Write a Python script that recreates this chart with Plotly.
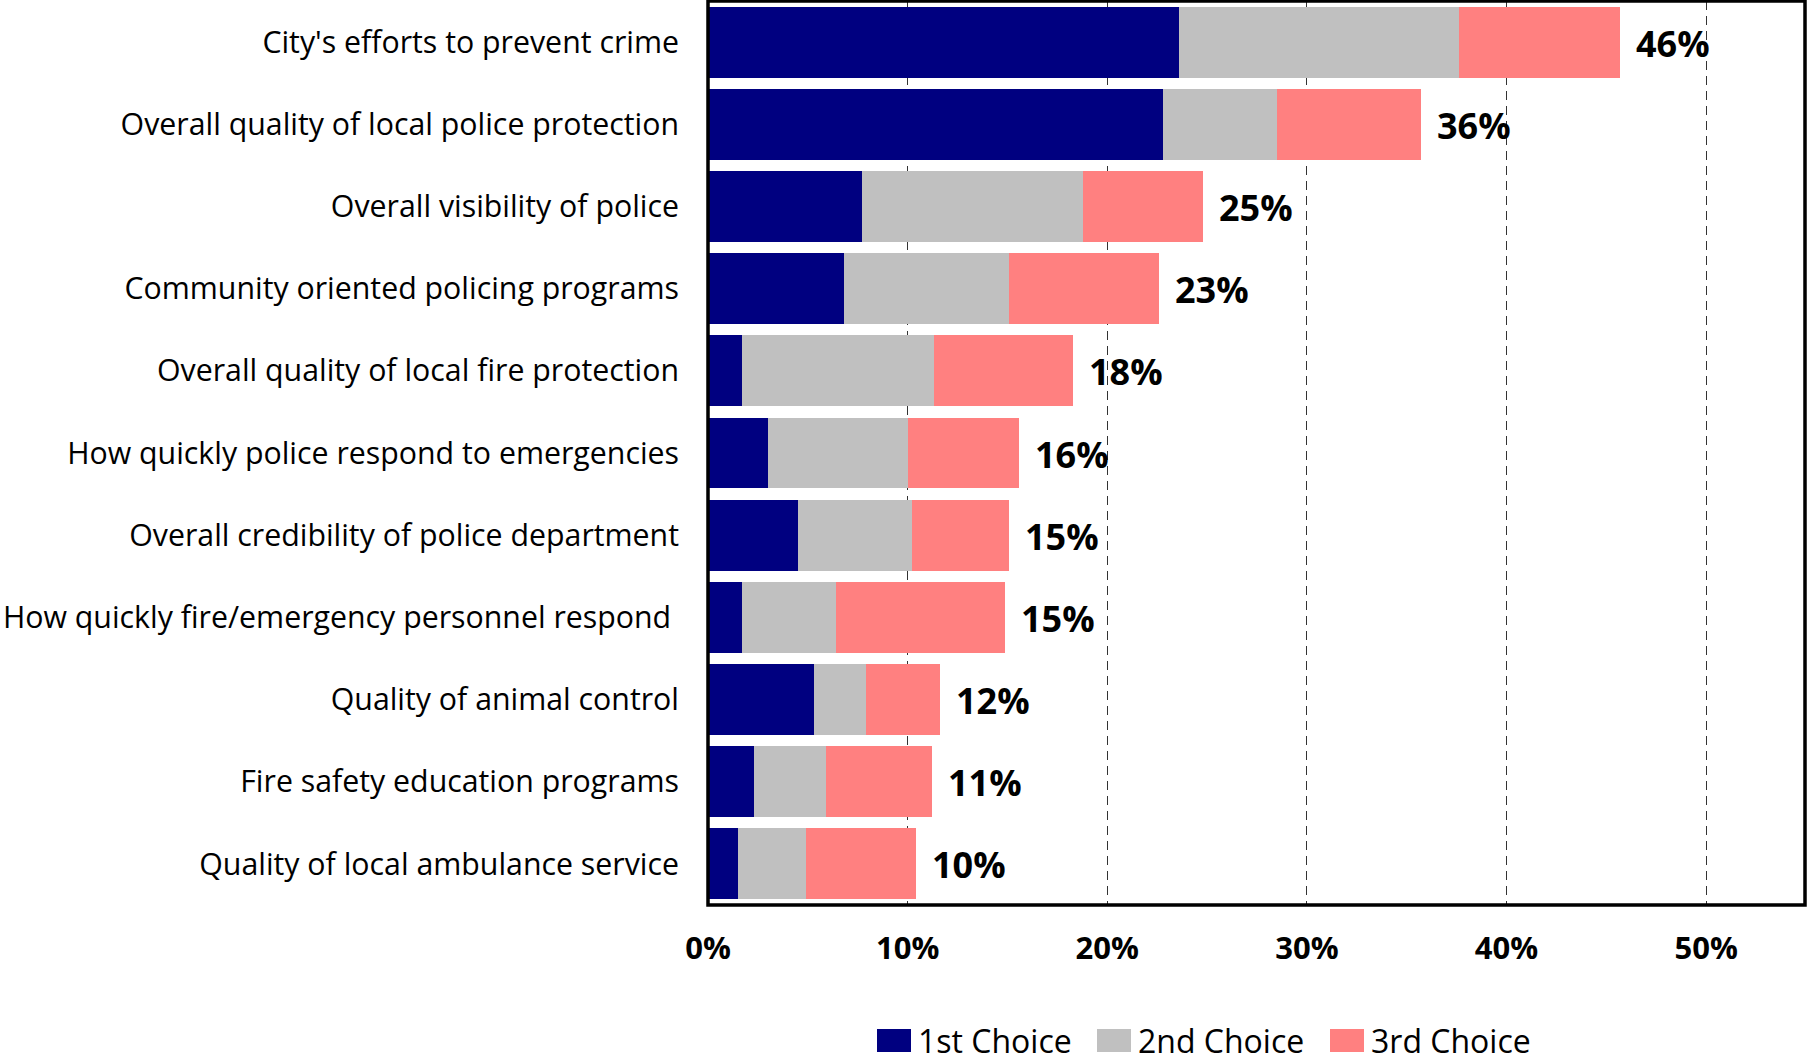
import plotly.graph_objects as go

# Service items, listed top to bottom
categories = [
    "City's efforts to prevent crime",
    "Overall quality of local police protection",
    "Overall visibility of police",
    "Community oriented policing programs",
    "Overall quality of local fire protection",
    "How quickly police respond to emergencies",
    "Overall credibility of police department",
    "How quickly fire/emergency personnel respond\u00a0",
    "Quality of animal control",
    "Fire safety education programs",
    "Quality of local ambulance service",
]

# Share of respondents naming each item as 1st / 2nd / 3rd choice
first_choice = [0.236, 0.228, 0.077, 0.068, 0.017, 0.030, 0.045, 0.017, 0.053, 0.023, 0.015]
second_choice = [0.140, 0.057, 0.111, 0.083, 0.096, 0.070, 0.057, 0.047, 0.026, 0.036, 0.034]
third_choice = [0.081, 0.072, 0.060, 0.075, 0.070, 0.056, 0.049, 0.085, 0.037, 0.053, 0.055]

series_names = ["1st Choice", "2nd Choice", "3rd Choice"]
series_colors = ["#000080", "#C0C0C0", "#FF8080"]

x_tick_values = [0.0, 0.1, 0.2, 0.3, 0.4, 0.5]
x_tick_labels = ["0%", "10%", "20%", "30%", "40%", "50%"]

FONT = "Open Sans"
W, H = 1808, 1061
M_L, M_R, M_T, M_B = 708, 3, 1, 156


def paper_x(px):
    return (px - M_L) / (W - M_L - M_R)


def paper_y(py):
    return (H - M_B - py) / (H - M_T - M_B)


fig = go.Figure()

series = [first_choice, second_choice, third_choice]
for name, values, color in zip(series_names, series, series_colors):
    fig.add_trace(go.Bar(
        y=categories,
        x=values,
        name=name,
        orientation="h",
        marker=dict(color=color, line=dict(width=0)),
        showlegend=False,
    ))

# Total share label at the end of each stacked bar
totals = [a + b + c for a, b, c in zip(*series)]
for cat, total in zip(categories, totals):
    fig.add_annotation(
        x=total, y=cat, xref="x", yref="y",
        text=f"{round(total * 100)}%",
        showarrow=False, xanchor="left", yanchor="middle", xshift=14, yshift=-1,
        font=dict(family=FONT, size=36, color="black", weight="bold"),
    )

# Legend drawn as swatches with labels below the plot
legend_left = [877, 1097, 1330]
sw_w, sw_h, sw_top = 34, 23, 1029
for name, color, left in zip(series_names, series_colors, legend_left):
    fig.add_shape(
        type="rect", xref="paper", yref="paper",
        x0=paper_x(left), x1=paper_x(left + sw_w),
        y0=paper_y(sw_top + sw_h), y1=paper_y(sw_top),
        fillcolor=color, line=dict(width=0),
    )
    fig.add_annotation(
        x=paper_x(left + sw_w + 5), y=paper_y(sw_top + sw_h / 2),
        xref="paper", yref="paper", text=name, showarrow=False,
        xanchor="left", yanchor="middle",
        font=dict(family=FONT, size=32, color="black"),
    )

# Plot frame
fig.add_shape(
    type="rect", xref="paper", yref="paper", x0=0, x1=1, y0=0, y1=1,
    line=dict(color="black", width=3.5), layer="above",
)

fig.update_layout(
    width=W, height=H,
    margin=dict(l=M_L, r=M_R, t=M_T, b=M_B, pad=0, autoexpand=False),
    barmode="stack",
    bargap=0.137,
    plot_bgcolor="white",
    paper_bgcolor="white",
    font=dict(family=FONT, color="black"),
    showlegend=False,
)

fig.update_xaxes(
    range=[0, 0.5495],
    tickvals=x_tick_values,
    ticktext=x_tick_labels,
    showgrid=True, gridcolor="#333333", gridwidth=1, griddash="9px,6px",
    zeroline=False, showline=False, ticks="",
    tickfont=dict(family=FONT, size=31, color="black", weight="bold"),
    ticklabelstandoff=22,
    automargin=False,
)

fig.update_yaxes(
    type="category",
    categoryorder="array", categoryarray=categories,
    autorange="reversed",
    showgrid=False, zeroline=False, showline=False, ticks="",
    tickfont=dict(family=FONT, size=30.3, color="black"),
    ticklabelstandoff=28,
    automargin=False,
)

fig.write_html("out.html")
